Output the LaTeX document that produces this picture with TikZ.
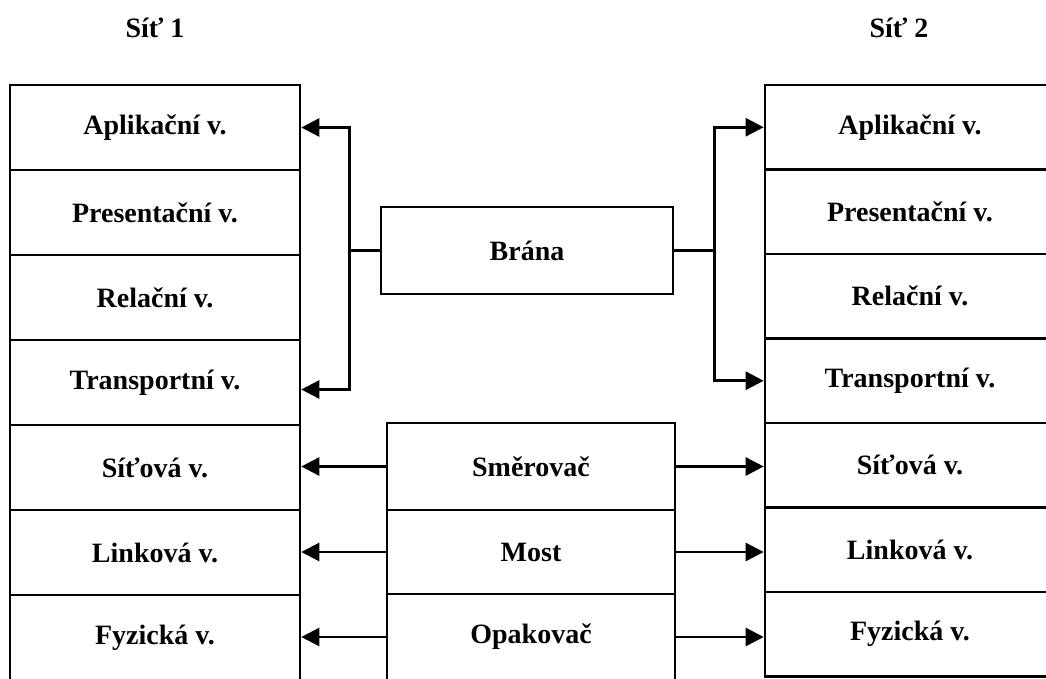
\documentclass[tikz,border=0pt]{standalone}
\usepackage{fontspec}
\setmainfont{Liberation Serif}
\usetikzlibrary{arrows.meta}
\begin{document}
\begin{tikzpicture}[x=1pt,y=-1pt,
  every node/.style={font=\fontsize{28}{32}\selectfont\bfseries},
  cell/.style={draw=black, line width=2.6pt, rectangle, inner sep=0pt},
  lcell/.style={cell, minimum width=290pt, minimum height=85pt},
  rcell/.style={cell, minimum width=290pt, minimum height=84.5pt},
  mcell/.style={cell, minimum width=288pt},
  title/.style={inner sep=0pt},
  conn/.style={line width=2.6pt, draw=black},
  arr/.style={conn, -{Triangle[length=18pt,width=18pt]}}]
\useasboundingbox (0,0) rectangle (1046,679);
% titles
\node[title] (t1) at (155,28) {Síť 1};
\node[title] (t2) at (899,28) {Síť 2};
% left column
\node[lcell] (aplL) at (155,127.5) {Aplikační v.};
\node[lcell] (preL) at (155,212.5) {Presentační v.};
\node[lcell] (relL) at (155,297.5) {Relační v.};
\node[lcell] (traL) at (155,382.5) {Transportní v.};
\node[lcell] (sitL) at (155,467.5) {Síťová v.};
\node[lcell] (linL) at (155,552.5) {Linková v.};
\node[lcell] (fyzL) at (155,637.5) {Fyzická v.};
% right column
\node[rcell] (aplR) at (910,127.25) {Aplikační v.};
\node[rcell] (preR) at (910,211.75) {Presentační v.};
\node[rcell] (relR) at (910,296.25) {Relační v.};
\node[rcell] (traR) at (910,380.75) {Transportní v.};
\node[rcell] (sitR) at (910,465.25) {Síťová v.};
\node[rcell] (linR) at (910,549.75) {Linková v.};
\node[rcell] (fyzR) at (910,634.25) {Fyzická v.};
% gateway
\node[cell, minimum width=292pt, minimum height=87pt] (brana) at (527,250.5) {Brána};
% middle devices
\node[mcell, minimum height=87pt] (smer) at (531,466.5) {Směrovač};
\node[mcell, minimum height=84pt] (most) at (531,552) {Most};
\node[mcell, minimum height=86pt] (opak) at (531,637) {Opakovač};
% gateway connectors
\coordinate (bl) at ([xshift=-30pt]brana.west);
\coordinate (br) at ([xshift=40pt]brana.east);
\draw[conn] (brana.west) -- (bl);
\draw[arr] (bl) |- (aplL.east);
\draw[arr] (bl) |- ([yshift=-7pt]traL.east);
\draw[conn] (brana.east) -- (br);
\draw[arr] (br) |- (aplR.west);
\draw[arr] (br) |- (traR.west);
% device connectors
\draw[arr] (smer.west) -- (smer.west -| sitL.east);
\draw[arr] (most.west) -- (most.west -| linL.east);
\draw[arr] (opak.west) -- (opak.west -| fyzL.east);
\draw[arr] (smer.east) -- (smer.east -| sitR.west);
\draw[arr] (most.east) -- (most.east -| linR.west);
\draw[arr] (opak.east) -- (opak.east -| fyzR.west);
\end{tikzpicture}
\end{document}
